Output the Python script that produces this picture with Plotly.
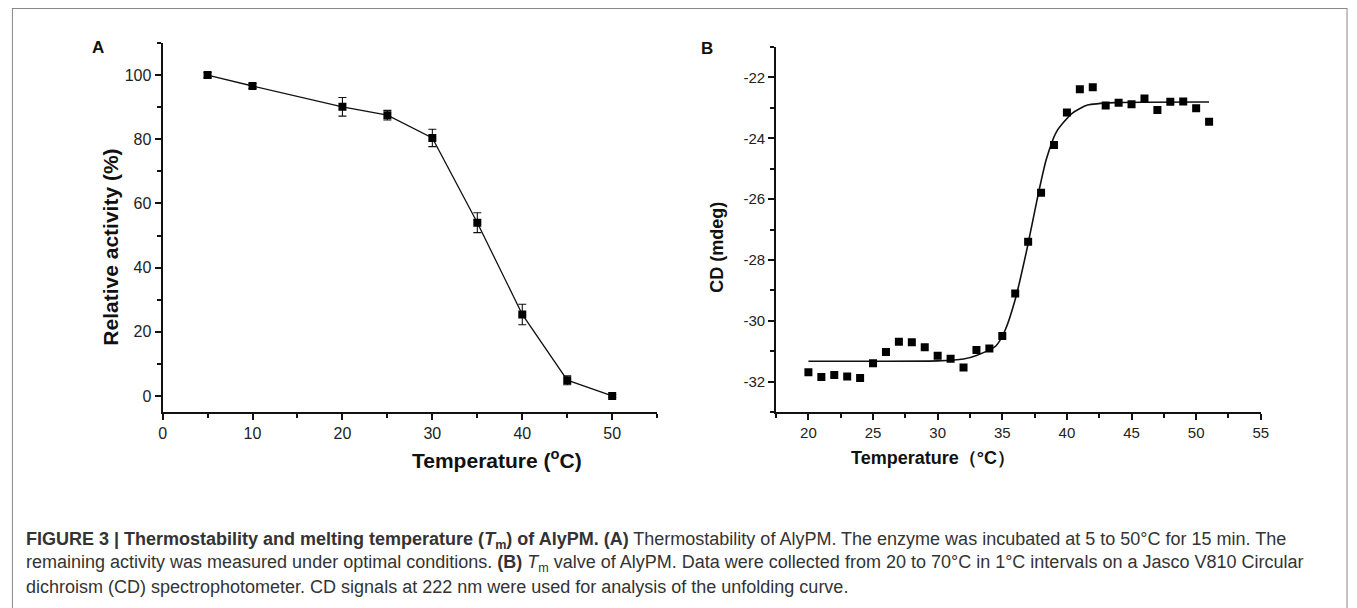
import plotly.graph_objects as go

W, H = 1357, 608

# ---- Panel A data ----
temp_a = [5, 10, 20, 25, 30, 35, 40, 45, 50]
activity_a = [100.0, 96.6, 90.1, 87.5, 80.4, 54.0, 25.4, 4.9, 0.0]
err_a = [0.8, 0.8, 2.9, 1.5, 2.7, 3.1, 3.2, 1.4, 0.4]

# ---- Panel B data ----
temp_b = list(range(20, 52))
cd_b = [-31.69, -31.85, -31.78, -31.83, -31.88, -31.40, -31.03, -30.69,
        -30.71, -30.87, -31.15, -31.25, -31.54, -30.96, -30.91, -30.50,
        -29.10, -27.40, -25.79, -24.22, -23.15, -22.39, -22.32, -22.92,
        -22.83, -22.88, -22.69, -23.07, -22.80, -22.79, -23.01, -23.46]

# fitted curve
fit_x = [20, 30, 32, 33, 34.5, 35.2, 36.0, 36.9, 37.7, 38.4, 39.2, 40.4, 41.6, 43.7, 51]
fit_y = [-31.33, -31.32, -31.26, -31.14, -30.83, -30.33, -29.30, -27.66,
         -26.0, -24.7, -23.78, -23.18, -22.91, -22.83, -22.81]

a_xticks = [0, 10, 20, 30, 40, 50]
a_yticks = [0, 20, 40, 60, 80, 100]
b_xticks = [20, 25, 30, 35, 40, 45, 50, 55]
b_yticks = [-32, -30, -28, -26, -24, -22]
b_yticktext = ["-32", "-30", "-28", "-26", "-24", "-22"]

def px(x):
    return x / W

def py(y):
    return 1 - y / H

fig = go.Figure()

fig.add_trace(go.Scatter(
    x=temp_a, y=activity_a, mode="lines+markers",
    line=dict(color="#111111", width=1.3),
    marker=dict(symbol="square", size=8, color="#000000"),
    error_y=dict(type="data", array=err_a, visible=True, color="#111111",
                 thickness=1.1, width=4),
    xaxis="x", yaxis="y", showlegend=False))

fig.add_trace(go.Scatter(
    x=fit_x, y=fit_y, mode="lines",
    line=dict(color="#111111", width=1.6, shape="spline", smoothing=0.6),
    xaxis="x2", yaxis="y2", showlegend=False))

fig.add_trace(go.Scatter(
    x=temp_b, y=cd_b, mode="markers",
    marker=dict(symbol="square", size=8, color="#000000"),
    xaxis="x2", yaxis="y2", showlegend=False))

tickfont_a = dict(family="Liberation Sans, Arial", size=16, color="#222222")
tickfont_b = dict(family="Liberation Sans, Arial", size=15, color="#222222")
axis_common = dict(showline=True, linecolor="#111111", linewidth=2,
                   ticks="outside", ticklen=6, tickwidth=1.5, tickcolor="#111111",
                   showgrid=False, zeroline=False, mirror=False)

def minor(dt, t0):
    return dict(dtick=dt, tick0=t0, ticks="outside", ticklen=4,
                tickwidth=1.5, tickcolor="#111111")

fig.update_layout(
    width=W, height=H, margin=dict(l=0, r=0, t=0, b=0),
    paper_bgcolor="white", plot_bgcolor="white",
    xaxis=dict(domain=[px(160), px(659)], range=[0, 55], tickvals=a_xticks,
               minor=minor(5, 0), anchor="y", tickfont=tickfont_a, **axis_common),
    yaxis=dict(domain=[py(412), py(43)], range=[-5, 110], tickvals=a_yticks,
               minor=minor(10, 0), anchor="x", tickfont=tickfont_a, **axis_common),
    xaxis2=dict(domain=[px(779), px(1268)], range=[17.5, 55], tickvals=b_xticks,
                minor=minor(2.5, 0), anchor="y2", tickfont=tickfont_b, **axis_common),
    yaxis2=dict(domain=[py(412), py(47)], range=[-33, -21], tickvals=b_yticks,
                ticktext=b_yticktext, minor=minor(1, -33), anchor="x2",
                tickfont=tickfont_b, **axis_common),
)

title_font = dict(family="Liberation Sans, Arial", color="#111111")
ann = []
ann.append(dict(x=px(87), y=py(36), text="<b>A</b>", showarrow=False,
                font=dict(size=17, **title_font), xref="paper", yref="paper"))
ann.append(dict(x=px(709), y=py(37), text="<b>B</b>", showarrow=False,
                font=dict(size=17, **title_font), xref="paper", yref="paper"))
ann.append(dict(x=px(93), y=py(247), text="<b>Relative activity (%)</b>", textangle=-90,
                showarrow=False, font=dict(size=21, **title_font), xref="paper", yref="paper"))
ann.append(dict(x=px(410), y=py(474), text="<b>Temperature (<sup>o</sup>C)</b>",
                showarrow=False, font=dict(size=21, **title_font), xref="paper", yref="paper"))
ann.append(dict(x=px(719), y=py(247), text="<b>CD (mdeg)</b>", textangle=-90,
                showarrow=False, font=dict(size=18, **title_font), xref="paper", yref="paper"))
ann.append(dict(x=px(1022), y=py(470), text="<b>Temperature（°C）</b>",
                showarrow=False, font=dict(size=18, **title_font), xref="paper", yref="paper"))

cap_font = dict(family="Liberation Sans, Arial", size=18, color="#333333")
cap_lines = [
    "<b>FIGURE 3 | Thermostability and melting temperature (<i>T</i><sub>m</sub>) of AlyPM. (A)</b> "
    "Thermostability of AlyPM. The enzyme was incubated at 5 to 50°C for 15 min. The",
    "remaining activity was measured under optimal conditions. <b>(B)</b> <i>T</i><sub>m</sub> "
    "valve of AlyPM. Data were collected from 20 to 70°C in 1°C intervals on a Jasco V810 Circular",
    "dichroism (CD) spectrophotometer. CD signals at 222 nm were used for analysis of the unfolding curve.",
]
cap_y = [540, 563, 587]
for t, yy in zip(cap_lines, cap_y):
    ann.append(dict(x=px(20), y=py(yy), text=t, showarrow=False, xanchor="left",
                    yanchor="middle", align="left", font=cap_font,
                    xref="paper", yref="paper"))
fig.update_layout(annotations=ann)

# outer frame (open at the bottom)
frame = dict(color="#888888", width=1)
fig.add_shape(type="line", xref="paper", yref="paper", x0=px(8), x1=px(1355),
              y0=py(8.5), y1=py(8.5), line=frame)
fig.add_shape(type="line", xref="paper", yref="paper", x0=px(8.5), x1=px(8.5),
              y0=py(8), y1=0, line=frame)
fig.add_shape(type="line", xref="paper", yref="paper", x0=px(1355), x1=px(1355),
              y0=py(8), y1=0, line=frame)

fig.write_html("out.html")
